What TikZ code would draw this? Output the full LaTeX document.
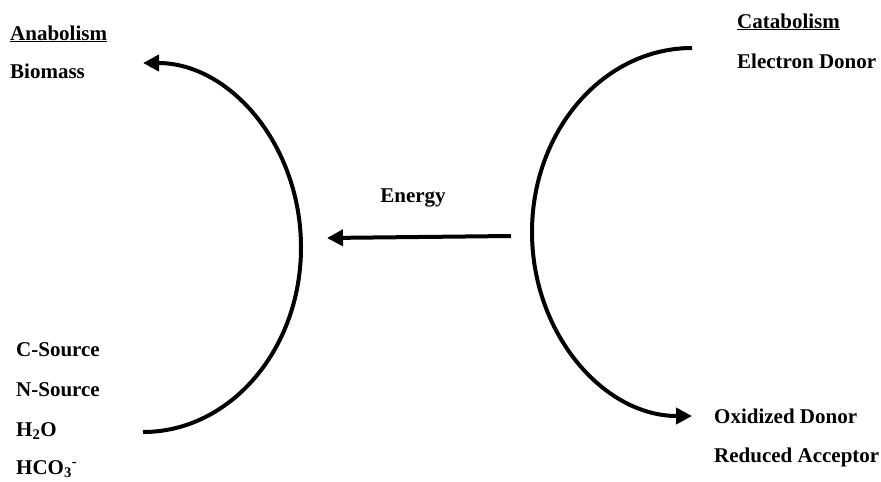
\documentclass[tikz,border=0pt]{standalone}
\usepackage{fontspec}
\setmainfont{Liberation Serif}
\usepackage{tikz}
\usetikzlibrary{arrows.meta}

\begin{document}
\begin{tikzpicture}[x=1pt, y=-1pt, >={Triangle[length=16pt,width=16pt]},
    flow/.style={line width=4pt},
    lbl/.style={anchor=base west, inner sep=0pt, font=\fontsize{21}{25}\selectfont\bfseries}]
    \useasboundingbox (0,0) rectangle (881,482);

    % Anabolism side
    \node[lbl] (anabolism) at (10,40) {\underline{Anabolism}};
    \node[lbl] (biomass) at (10,78) {Biomass};
    \node[lbl] (csource) at (16,356) {C-Source};
    \node[lbl] (nsource) at (16,396) {N-Source};
    \node[lbl] (water) at (16,436) {H\textsubscript{2}O};
    \node[lbl] (hco) at (16,474) {HCO\textsubscript{3}\textsuperscript{-}};
    \coordinate (ana-in) at (143,432);
    \draw[flow, ->] (ana-in) arc[start angle=90, end angle=-90, x radius=158, y radius=184.5];

    % Catabolism side
    \node[lbl] (catabolism) at (737,28) {\underline{Catabolism}};
    \node[lbl] (donor) at (737,68) {Electron Donor};
    \node[lbl] (oxidized) at (714,423) {Oxidized Donor};
    \node[lbl] (reduced) at (714,462) {Reduced Acceptor};
    \coordinate (cat-in) at (692,48);
    \draw[flow, ->] (cat-in) arc[start angle=-90, end angle=-270, x radius=160, y radius=184];

    % Energy transfer
    \coordinate (energy-from) at (511,236);
    \coordinate (energy-to) at (327,238);
    \node[lbl, anchor=base] (energy) at (413,202) {Energy};
    \draw[flow, ->] (energy-from) -- (energy-to);
\end{tikzpicture}
\end{document}
